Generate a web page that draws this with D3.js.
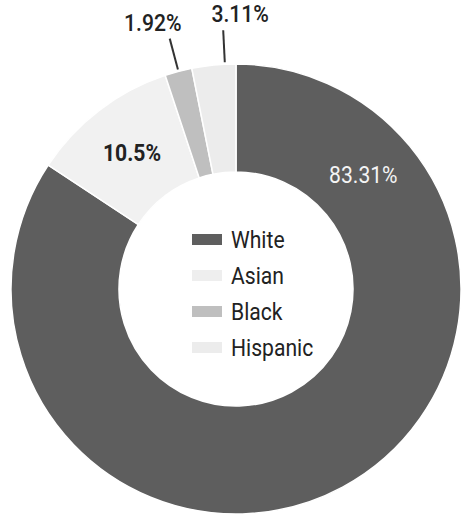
<!DOCTYPE html>
<html>
<head>
<meta charset="utf-8">
<script src="https://cdn.jsdelivr.net/npm/d3@7"></script>
<style>
  html, body { margin: 0; padding: 0; background: #fff; }
  svg { display: block; }
  text { font-family: Roboto, "Noto Sans", sans-serif; }
</style>
</head>
<body>
<svg id="chart" width="464" height="517"></svg>
<script>
// Share of each group, in percent
const groups = ["White", "Asian", "Black", "Hispanic"];
const shares = [83.31, 10.5, 1.92, 3.11];
const shareLabels = ["83.31%", "10.5%", "1.92%", "3.11%"];
const fills = ["#5e5e5e", "#f1f1f1", "#bfbfbf", "#ececec"];

const width = 464, height = 517;
const cx = 236, cy = 289;
const outerR = 225, innerR = 117;
const squeeze = 0.88; // narrow lettering

const svg = d3.select("#chart");
const root = svg.append("g").attr("transform", `translate(${cx},${cy})`);

const data = groups.map((g, i) => ({ group: g, value: shares[i], label: shareLabels[i], fill: fills[i] }));

const pie = d3.pie().value(d => d.value).sort(null);
const arcs = pie(data);

const arc = d3.arc().innerRadius(innerR).outerRadius(outerR);

root.selectAll("path.slice")
  .data(arcs)
  .join("path")
  .attr("class", "slice")
  .attr("d", arc)
  .attr("fill", d => d.data.fill)
  .attr("stroke", "#fff")
  .attr("stroke-width", 1.5);

// polar helper: angle measured clockwise from 12 o'clock
const polar = (a, r) => [r * Math.sin(a), -r * Math.cos(a)];
const midR = (innerR + outerR) / 2;

function squeezedText(parent, x, y, str, opts) {
  const g = parent.append("g").attr("transform", `translate(${x},${y}) scale(${squeeze},1)`);
  return g.append("text")
    .attr("text-anchor", opts.anchor || "middle")
    .attr("dominant-baseline", "central")
    .attr("font-size", opts.size || 24)
    .attr("font-weight", opts.weight || 400)
    .attr("fill", opts.fill || "#222")
    .text(str);
}

// labels inside the ring for the wide slices, leader lines for the thin ones
let outsideIndex = 0;
arcs.forEach((d, i) => {
  const span = d.endAngle - d.startAngle;
  if (span > 0.3) {
    // the big slice gets its label near its start, the others at the centroid
    const a = span > Math.PI ? d.startAngle + 0.84 : (d.startAngle + d.endAngle) / 2;
    const [x, y] = polar(a, midR);
    const dark = d3.hsl(d.data.fill).l < 0.5;
    squeezedText(root, x, y, d.data.label, {
      fill: dark ? "#f4f4f4" : "#222",
      weight: dark ? 400 : 700
    });
  } else {
    // neighbouring leaders are pushed apart so their labels don't collide
    const a = d.startAngle + span * (outsideIndex === 0 ? 0.5 : 0.75);
    const [x1, y1] = polar(a, outerR + 2);
    const [x2, y2] = polar(a, outerR + 34);
    root.append("line")
      .attr("x1", x1).attr("y1", y1)
      .attr("x2", x2).attr("y2", y2)
      .attr("stroke", "#333")
      .attr("stroke-width", 2);
    const shift = outsideIndex === 0 ? -17 : 17;
    squeezedText(root, x2 + shift, y2 - 16, d.data.label, { fill: "#222", weight: 500 });
    outsideIndex++;
  }
});

// legend in the hole
const legend = root.append("g").attr("transform", "translate(-44,-49)");
const rowGap = 36;
groups.forEach((g, i) => {
  const row = legend.append("g").attr("transform", `translate(0,${i * rowGap})`);
  row.append("rect")
    .attr("x", 0).attr("y", -6)
    .attr("width", 30).attr("height", 11)
    .attr("fill", fills[i] === "#f1f1f1" ? "#eeeeee" : fills[i]);
  squeezedText(row, 39, 0, g, { anchor: "start", fill: "#222" });
});
</script>
</body>
</html>
